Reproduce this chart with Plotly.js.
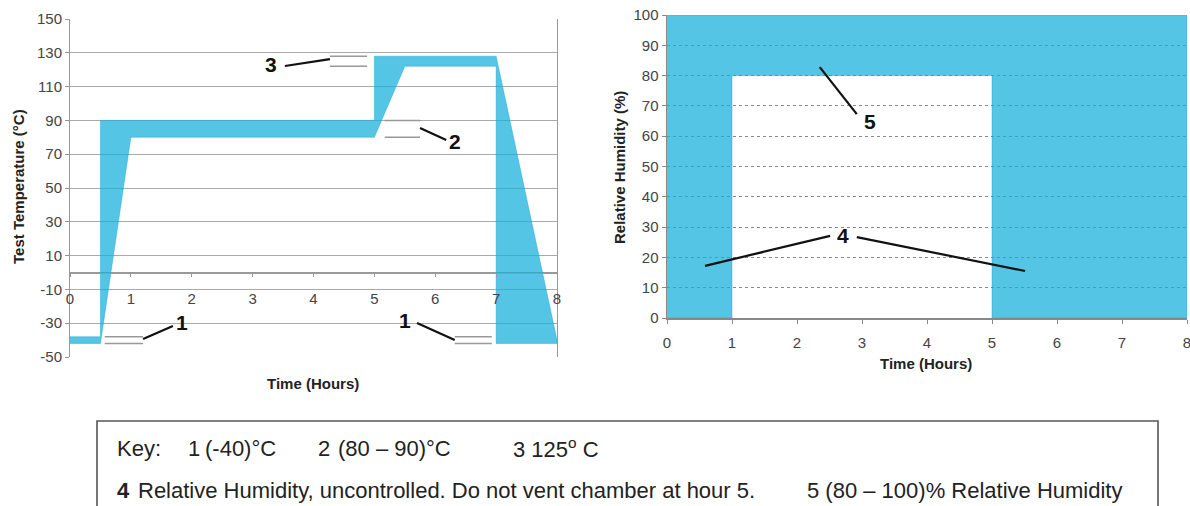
<!DOCTYPE html>
<html>
<head>
<meta charset="utf-8">
<script src="https://cdn.plot.ly/plotly-3.0.1.min.js"></script>
<style>html,body{margin:0;padding:0;background:#fff;}#chart{width:1190px;height:506px;}</style>
</head>
<body>
<div id="chart"></div>
<script>
// ---- Data ----
// Temperature band (°C) over time (hours)
const tempUpperTime = [0, 0.5, 0.5, 5, 5, 7, 8];
const tempUpper     = [-38, -38, 90, 90, 128, 128, -40];
const tempLowerTime = [0, 0.5, 1, 5, 5.5, 7, 7, 8];
const tempLower     = [-42, -42, 80, 80, 122, 122, -42, -42];
// Relative humidity band (%) over time (hours)
const rhTime  = [0, 1, 1, 5, 5, 8];
const rhLower = [0, 0, 80, 80, 0, 0];
const rhUpper = [100, 100, 100, 100, 100, 100];
// Tick labels
const hourTicks = [0, 1, 2, 3, 4, 5, 6, 7, 8];
const tempTicks = [-50, -30, -10, 10, 30, 50, 70, 90, 110, 130, 150];
const rhTicks   = [0, 10, 20, 30, 40, 50, 60, 70, 80, 90, 100];
// Key text
const keyRow1 = ["Key:", "1", "(-40)°C", "2", "(80 – 90)°C", "3 125<sup>o</sup> C"];
const keyRow2 = ["<b>4</b>", "Relative Humidity, uncontrolled. Do not vent chamber at hour 5.", "5 (80 – 100)% Relative Humidity"];

// ---- helpers ----
const W = 1190, H = 506;
const px = v => v / W;
const py = v => 1 - v / H;
const BLUE = 'rgba(20,175,220,0.73)';
const FONT = 'Liberation Sans, Arial, sans-serif';

const tempPolyX = tempUpperTime.concat(tempLowerTime.slice().reverse());
const tempPolyY = tempUpper.concat(tempLower.slice().reverse());
const rhPolyX = rhTime.concat(rhTime.slice().reverse());
const rhPolyY = rhUpper.concat(rhLower.slice().reverse());

const traces = [
  {x: tempPolyX, y: tempPolyY, xaxis: 'x', yaxis: 'y', type: 'scatter', mode: 'lines',
   fill: 'toself', fillcolor: BLUE, line: {width: 0.5, color: 'rgba(20,160,210,0.8)'}, hoverinfo: 'skip'},
  {x: rhPolyX, y: rhPolyY, xaxis: 'x2', yaxis: 'y2', type: 'scatter', mode: 'lines',
   fill: 'toself', fillcolor: BLUE, line: {width: 0.5, color: 'rgba(20,160,210,0.8)'}, hoverinfo: 'skip'}
];

const tickFont = {family: FONT, size: 15, color: '#444'};
const titleFont = {family: FONT, size: 15, color: '#222'};
const numFont = {family: FONT, size: 21, color: '#111'};

function blackLine(xr, yr, x0, y0, x1, y1) {
  return {type: 'line', xref: xr, yref: yr, x0, y0, x1, y1, line: {color: '#111', width: 2.2}};
}
function grayLine(xr, yr, x0, x1, y) {
  return {type: 'line', xref: xr, yref: yr, x0, y0: y, x1, y1: y, line: {color: '#999', width: 1.5}};
}

const shapes = [
  // callout "3" (125 °C band limits)
  blackLine('x', 'y', 3.53, 122.2, 4.27, 126.3),
  grayLine('x', 'y', 4.27, 4.88, tempUpper[4]),
  grayLine('x', 'y', 4.27, 4.88, tempLower[4]),
  // callout "2" (80-90 °C band)
  blackLine('x', 'y', 5.75, 85.5, 6.18, 78.4),
  grayLine('x', 'y', 5.17, 5.75, tempUpper[2]),
  grayLine('x', 'y', 5.17, 5.75, tempLower[2]),
  // callout "1" left
  blackLine('x', 'y', 1.2, -39.3, 1.69, -31.7),
  grayLine('x', 'y', 0.57, 1.2, tempUpper[0]),
  grayLine('x', 'y', 0.57, 1.2, tempLower[0]),
  // callout "1" right
  blackLine('x', 'y', 5.70, -29.9, 6.32, -39.9),
  grayLine('x', 'y', 6.32, 6.93, tempUpper[0]),
  grayLine('x', 'y', 6.32, 6.93, tempLower[0]),
  // callout "5"
  blackLine('x2', 'y2', 2.35, 82.8, 2.92, 67.3),
  // callout "4"
  blackLine('x2', 'y2', 0.585, 17.2, 2.51, 27.1),
  blackLine('x2', 'y2', 2.92, 26.7, 5.51, 15.5),
  // key box
  {type: 'rect', xref: 'paper', yref: 'paper', x0: px(97), x1: px(1158), y0: -0.1, y1: py(421),
   line: {color: '#555', width: 1.6}, fillcolor: 'rgba(0,0,0,0)'}
];

const annotations = [
  // callout numbers
  {xref: 'x', yref: 'y', x: 3.30, y: 122.8, text: '<b>3</b>', showarrow: false, font: numFont},
  {xref: 'x', yref: 'y', x: 6.32, y: 77.8, text: '<b>2</b>', showarrow: false, font: numFont},
  {xref: 'x', yref: 'y', x: 1.84, y: -29.3, text: '<b>1</b>', showarrow: false, font: numFont},
  {xref: 'x', yref: 'y', x: 5.50, y: -28.5, text: '<b>1</b>', showarrow: false, font: numFont},
  {xref: 'x2', yref: 'y2', x: 3.12, y: 64.7, text: '<b>5</b>', showarrow: false, font: numFont},
  {xref: 'x2', yref: 'y2', x: 2.71, y: 27.3, text: '<b>4</b>', showarrow: false, font: numFont},
  // axis titles
  {xref: 'paper', yref: 'paper', x: px(18), y: py(187), xanchor: 'center', yanchor: 'middle',
   text: '<b>Test Temperature (°C)</b>', textangle: -90, showarrow: false, font: titleFont},
  {xref: 'paper', yref: 'paper', x: px(313), y: py(383), xanchor: 'center', yanchor: 'middle',
   text: '<b>Time (Hours)</b>', showarrow: false, font: titleFont},
  {xref: 'paper', yref: 'paper', x: px(619), y: py(168), xanchor: 'center', yanchor: 'middle',
   text: '<b>Relative Humidity (%)</b>', textangle: -90, showarrow: false, font: titleFont},
  {xref: 'paper', yref: 'paper', x: px(926), y: py(363), xanchor: 'center', yanchor: 'middle',
   text: '<b>Time (Hours)</b>', showarrow: false, font: titleFont},
];

const keyFont = {family: FONT, size: 22, color: '#222'};
const row1X = [115, 186, 203, 316, 336, 511];
keyRow1.forEach((t, i) => annotations.push({xref: 'paper', yref: 'paper', x: px(row1X[i]), y: py(448),
  xanchor: 'left', yanchor: 'middle', text: t, showarrow: false, font: keyFont}));
const row2X = [115, 136, 805];
keyRow2.forEach((t, i) => annotations.push({xref: 'paper', yref: 'paper', x: px(row2X[i]), y: py(490),
  xanchor: 'left', yanchor: 'middle', text: t, showarrow: false, font: keyFont}));

const layout = {
  width: W, height: H,
  margin: {l: 0, r: 0, t: 0, b: 0},
  paper_bgcolor: '#fff', plot_bgcolor: 'rgba(0,0,0,0)',
  showlegend: false,
  font: {family: FONT},
  xaxis: {
    domain: [px(70), px(557)], range: [0, 8], anchor: 'free', position: py(272.5),
    tickvals: hourTicks, ticks: 'outside', ticklen: 3, tickcolor: '#999',
    showline: true, linecolor: '#999', linewidth: 1, showgrid: false, zeroline: false,
    tickfont: tickFont, ticklabelstandoff: 9, ticklabeloverflow: 'allow', fixedrange: true
  },
  yaxis: {
    domain: [py(357), py(19)], range: [-50, 150], anchor: 'x',
    tickvals: tempTicks, ticktext: tempTicks.map(String), ticks: 'outside', ticklen: 4, tickcolor: '#999',
    showline: true, mirror: true, linecolor: '#999', linewidth: 1,
    showgrid: true, gridcolor: '#aaa', gridwidth: 1,
    zeroline: true, zerolinecolor: '#999', zerolinewidth: 1,
    tickfont: tickFont, fixedrange: true
  },
  xaxis2: {
    domain: [px(667), px(1187)], range: [0, 8], anchor: 'y2',
    tickvals: hourTicks, ticks: 'outside', ticklen: 4, tickcolor: '#888',
    showline: true, linecolor: '#888', linewidth: 1.5, showgrid: false, zeroline: false,
    tickfont: tickFont, ticklabelstandoff: 6, ticklabeloverflow: 'allow', fixedrange: true
  },
  yaxis2: {
    domain: [py(318), py(15)], range: [0, 100], anchor: 'x2',
    tickvals: rhTicks, ticks: 'outside', ticklen: 4, tickcolor: '#888',
    showline: true, linecolor: '#888', linewidth: 1.5,
    showgrid: true, gridcolor: '#888', gridwidth: 1, griddash: 'dot',
    zeroline: false, tickfont: tickFont, fixedrange: true
  },
  shapes, annotations
};

Plotly.newPlot('chart', traces, layout, {staticPlot: true, displayModeBar: false});
</script>
</body>
</html>
